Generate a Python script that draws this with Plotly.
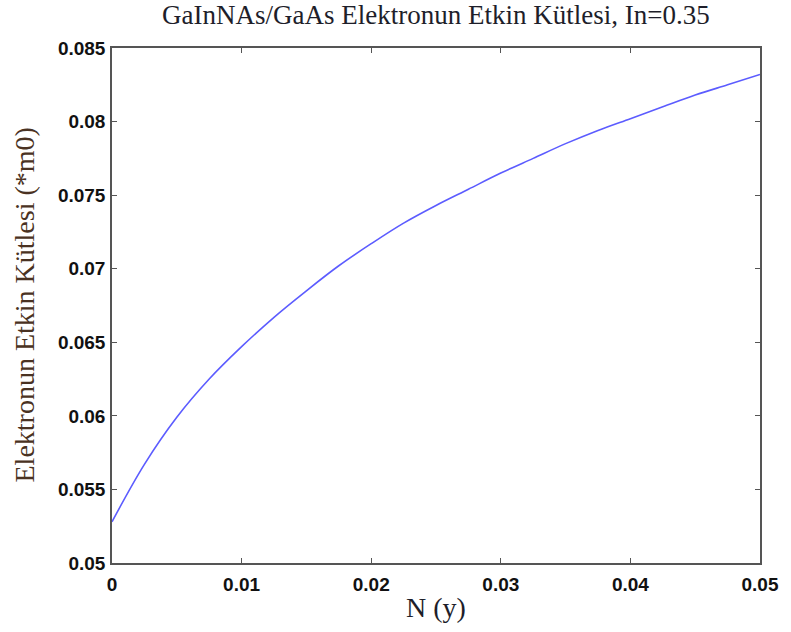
import plotly.graph_objects as go

# Nitrogen fraction y and electron effective mass (in units of m0), In = 0.35
n_frac = [0.0, 0.0025, 0.005, 0.0075, 0.01, 0.0125, 0.015, 0.0175, 0.02,
          0.0225, 0.025, 0.0275, 0.03, 0.0325, 0.035, 0.0375, 0.04,
          0.0425, 0.045, 0.0475, 0.05]
eff_mass = [0.0528, 0.0567, 0.0599, 0.0625, 0.0647, 0.0667, 0.0685, 0.0702, 0.0717,
            0.0731, 0.0743, 0.0754, 0.0765, 0.0775, 0.0785, 0.0794, 0.0802,
            0.0810, 0.0818, 0.0825, 0.0832]

x_ticks = [0, 0.01, 0.02, 0.03, 0.04, 0.05]
x_tick_text = ["0", "0.01", "0.02", "0.03", "0.04", "0.05"]
y_ticks = [0.05, 0.055, 0.06, 0.065, 0.07, 0.075, 0.08, 0.085]
y_tick_text = ["0.05", "0.055", "0.06", "0.065", "0.07", "0.075", "0.08", "0.085"]

SERIF = '"Liberation Serif", "Times New Roman", serif'
SANS = '"Liberation Sans", Arial, sans-serif'

fig = go.Figure()
fig.add_trace(go.Scatter(
    x=n_frac, y=eff_mass, mode="lines",
    line=dict(color="#5c5cff", width=1.6, shape="spline", smoothing=1.0),
    hoverinfo="skip", showlegend=False,
))

axis_common = dict(
    showline=True, linecolor="#555555", linewidth=1.5, mirror="ticks",
    ticks="inside", ticklen=5, tickwidth=1, tickcolor="#555555",
    showgrid=False, zeroline=False,
    tickfont=dict(family=SANS, size=19, color="#111111", weight="bold"),
)

fig.update_xaxes(range=[0, 0.05], tickvals=x_ticks, ticktext=x_tick_text,
                 ticklabelstandoff=3, **axis_common)
fig.update_yaxes(range=[0.05, 0.085], tickvals=y_ticks, ticktext=y_tick_text,
                 ticklabelstandoff=1, **axis_common)

fig.update_layout(
    width=791, height=632,
    margin=dict(l=112, r=25, t=48, b=69),
    paper_bgcolor="white", plot_bgcolor="white",
    annotations=[
        dict(text="GaInNAs/GaAs Elektronun Etkin Kütlesi, In=0.35",
             xref="paper", yref="paper", x=0.5, y=1, yshift=33,
             xanchor="center", yanchor="middle", showarrow=False,
             font=dict(family=SERIF, size=27, color="#1e1e2a")),
        dict(text="N (y)",
             xref="paper", yref="paper", x=0.5, y=0, yshift=-44,
             xanchor="center", yanchor="middle", showarrow=False,
             font=dict(family=SERIF, size=28, color="#1e1e2a")),
        dict(text="Elektronun Etkin Kütlesi (*m0)",
             xref="paper", yref="paper", x=0, xshift=-88, y=0.5,
             xanchor="center", yanchor="middle", showarrow=False, textangle=-90,
             font=dict(family=SERIF, size=28, color="#4a3222")),
    ],
)

fig.write_html("out.html")
